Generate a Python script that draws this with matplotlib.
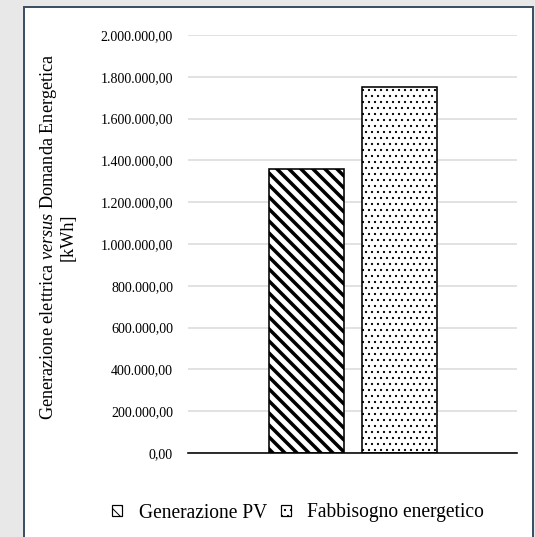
import matplotlib
matplotlib.use("Agg")
import matplotlib.pyplot as plt
from matplotlib.patches import Rectangle, Patch
from matplotlib.ticker import FuncFormatter

series = ["Generazione PV", "Fabbisogno energetico"]
values = [1360000, 1752000]
hatches = ["\\\\", ".."]
hatch_lws = [3.5, 1.0]
yticks = [0, 200000, 400000, 600000, 800000, 1000000, 1200000, 1400000,
          1600000, 1800000, 2000000]

DPI = 72
W, H = 535, 537
plt.rcParams['font.family'] = ['Liberation Serif', 'DejaVu Serif']
plt.rcParams['mathtext.fontset'] = 'custom'
plt.rcParams['mathtext.rm'] = 'Liberation Serif'
plt.rcParams['mathtext.it'] = 'Liberation Serif:italic'

fig = plt.figure(figsize=(W / DPI, H / DPI), dpi=DPI, facecolor='#e8e8e8')

# white chart area with dark border
box = Rectangle((23.5 / W, -0.02), (533 - 23.5) / W, (H - 6.5) / H + 0.02,
                transform=fig.transFigure, facecolor='white',
                edgecolor='#3d5066', linewidth=2, zorder=-5)
fig.patches.append(box)

ax = fig.add_axes([188 / W, 84 / H, (517 - 188) / W, (453 - 35) / H])
ax.set_facecolor('none')
ax.set_zorder(2)

positions = [-0.28, 0.288]
width = 0.456
bars = []
for x, v, h, hl in zip(positions, values, hatches, hatch_lws):
    b = ax.bar(x, v, width=width, color='white', edgecolor='black',
               linewidth=1.6, hatch=h, zorder=3)
    for p in b:
        try:
            p.set_hatch_linewidth(hl)
        except Exception:
            pass
    bars.append(b)

ax.set_xlim(-1, 1)
ax.set_ylim(0, 2000000)
ax.set_yticks(yticks)


def fmt(v, pos):
    s = f"{v:,.2f}"
    return s.replace(",", "X").replace(".", ",").replace("X", ".")


ax.yaxis.set_major_formatter(FuncFormatter(fmt))
ax.tick_params(axis='y', length=0, pad=15, labelsize=14)
ax.set_xticks([])
ax.grid(axis='y', color='#d9d9d9', linewidth=1.5, zorder=0)
ax.set_axisbelow(True)
for s in ['left', 'right', 'top']:
    ax.spines[s].set_visible(False)
ax.spines['bottom'].set_linewidth(1.6)
ax.spines['bottom'].set_color('black')
ax.spines['bottom'].set_zorder(4)

fig.text(57 / W, (H - 237) / H,
         "Generazione elettrica $\\mathit{versus}$ Domanda Energetica\n[kWh]",
         rotation=90, ha='center', va='center', multialignment='center',
         fontsize=18.3, linespacing=1.05)

handles = []
for s, h, hl in zip(series, hatches, hatch_lws):
    p = Patch(facecolor='white', edgecolor='black', hatch=h, linewidth=1.2,
              label=s)
    try:
        p.set_hatch_linewidth(hl)
    except Exception:
        pass
    handles.append(p)

fig.legend(handles=handles, loc='center', bbox_to_anchor=(298 / W, 24 / H),
           ncol=2, frameon=False, fontsize=19.5, handlelength=0.52,
           handleheight=0.52, handletextpad=0.85, columnspacing=0.7)

fig.savefig("out.png", dpi=DPI, facecolor=fig.get_facecolor())
